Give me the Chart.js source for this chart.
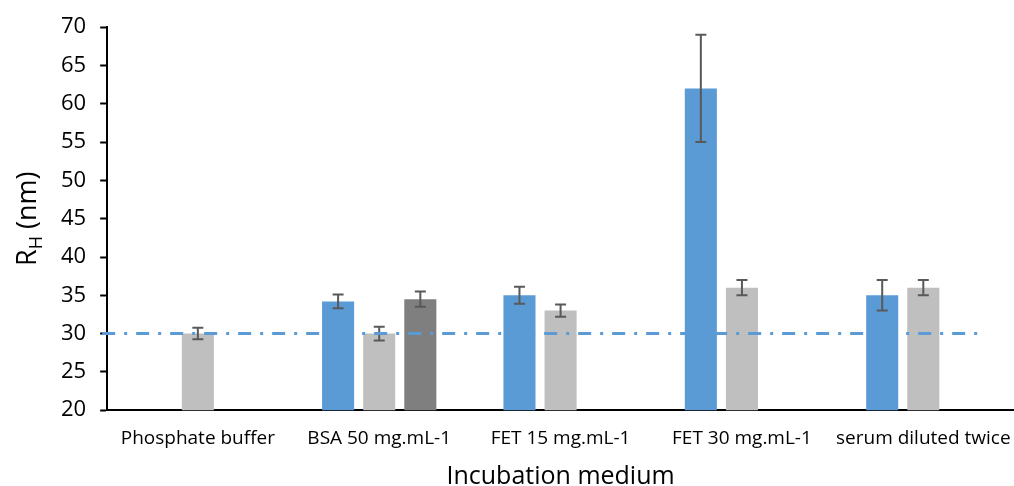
<!DOCTYPE html>
<html>
<head>
<meta charset="utf-8">
<script src="https://cdn.jsdelivr.net/npm/chart.js@4.4.0/dist/chart.umd.min.js"></script>
<style>
  html, body { margin: 0; padding: 0; background: #fff; }
  #wrap { width: 1014px; height: 486px; }
</style>
</head>
<body>
<div id="wrap"><canvas id="rh"></canvas></div>
<script>
'use strict';

// categories and values
const categories = ['Phosphate buffer', 'BSA 50 mg.mL-1', 'FET 15 mg.mL-1', 'FET 30 mg.mL-1', 'serum diluted twice'];
const blueValues = [null, 34.2, 35, 62, 35];
const blueErrors = [null, 0.9, 1.1, 7, 2];
const lightValues = [30, 30, 33, 36, 36];
const lightErrors = [0.75, 0.9, 0.8, 1, 1];
const darkValues = [null, 34.5, null, null, null];
const darkErrors = [null, 1, null, null, null];
const referenceLevel = 30;
const yTicks = [20, 25, 30, 35, 40, 45, 50, 55, 60, 65, 70];

const errorSets = [blueErrors, lightErrors, darkErrors];

// error bars drawn from the bar elements + y scale
const errorBars = {
  id: 'errorBars',
  afterDatasetsDraw(chart) {
    const ctx = chart.ctx;
    const y = chart.scales.y;
    ctx.save();
    ctx.strokeStyle = '#595959';
    ctx.lineWidth = 2;
    chart.data.datasets.forEach((ds, i) => {
      const meta = chart.getDatasetMeta(i);
      const errs = errorSets[i];
      meta.data.forEach((bar, j) => {
        const v = ds.data[j];
        const e = errs[j];
        if (v == null || e == null) return;
        const top = y.getPixelForValue(v + e);
        const bot = y.getPixelForValue(v - e);
        ctx.beginPath();
        ctx.moveTo(bar.x, top); ctx.lineTo(bar.x, bot);
        ctx.moveTo(bar.x - 5.5, top); ctx.lineTo(bar.x + 5.5, top);
        ctx.moveTo(bar.x - 5.5, bot); ctx.lineTo(bar.x + 5.5, bot);
        ctx.stroke();
      });
    });
    ctx.restore();
  }
};

// dash-dot reference line at R_H = 30
const refLine = {
  id: 'refLine',
  afterDatasetsDraw(chart) {
    const ctx = chart.ctx;
    const area = chart.chartArea;
    const py = chart.scales.y.getPixelForValue(referenceLevel);
    ctx.save();
    ctx.strokeStyle = '#5B9BD5';
    ctx.lineWidth = 3;
    ctx.setLineDash([13, 9, 3, 9]);
    ctx.beginPath();
    ctx.moveTo(area.left - 5, py);
    ctx.lineTo(area.right - 28, py);
    ctx.stroke();
    ctx.restore();
  }
};

// y title with subscript H
const yTitle = {
  id: 'yTitle',
  afterDraw(chart) {
    const ctx = chart.ctx;
    const area = chart.chartArea;
    ctx.save();
    ctx.translate(26, (area.top + area.bottom) / 2);
    ctx.rotate(-Math.PI / 2);
    ctx.fillStyle = '#000';
    ctx.textBaseline = 'alphabetic';
    const big = '27px "Open Sans"';
    const small = '18px "Open Sans"';
    ctx.font = big;
    const wR = ctx.measureText('R').width;
    const wRest = ctx.measureText(' (nm)').width;
    ctx.font = small;
    const wH = ctx.measureText('H').width;
    let x = -(wR + wH + wRest) / 2;
    const base = 10;
    ctx.font = big;
    ctx.fillText('R', x, base);
    x += wR;
    ctx.font = small;
    ctx.fillText('H', x, base + 6);
    x += wH;
    ctx.font = big;
    ctx.fillText(' (nm)', x, base);
    ctx.restore();
  }
};

new Chart(document.getElementById('rh').getContext('2d'), {
  type: 'bar',
  data: {
    labels: categories,
    datasets: [
      { data: blueValues, backgroundColor: '#5B9BD5' },
      { data: lightValues, backgroundColor: '#BFBFBF' },
      { data: darkValues, backgroundColor: '#7F7F7F' }
    ]
  },
  options: {
    responsive: true,
    maintainAspectRatio: false,
    animation: false,
    categoryPercentage: 0.68,
    barPercentage: 0.78,
    layout: { padding: { top: 16, right: -8, left: 47, bottom: 0 } },
    plugins: {
      legend: { display: false },
      tooltip: { enabled: false }
    },
    scales: {
      x: {
        // the plot in the original runs slightly past the right edge
        afterFit(scale) { scale.paddingRight = -8; },
        grid: { display: false, drawTicks: false },
        border: { color: '#000', width: 2 },
        ticks: { color: '#000', font: { family: 'Open Sans', size: 19 }, padding: 17, maxRotation: 0 },
        title: {
          display: true, text: 'Incubation medium', color: '#000',
          font: { family: 'Open Sans', size: 25 }, padding: { top: -5, bottom: -6 }
        }
      },
      y: {
        min: 20, max: 70,
        afterBuildTicks(axis) { axis.ticks = yTicks.map(v => ({ value: v })); },
        grid: { drawOnChartArea: false, tickLength: 7, tickColor: '#000', tickWidth: 2 },
        border: { color: '#000', width: 2 },
        ticks: { color: '#000', font: { family: 'Open Sans', size: 22 }, padding: 14 }
      }
    }
  },
  plugins: [errorBars, refLine, yTitle]
});
</script>
</body>
</html>
